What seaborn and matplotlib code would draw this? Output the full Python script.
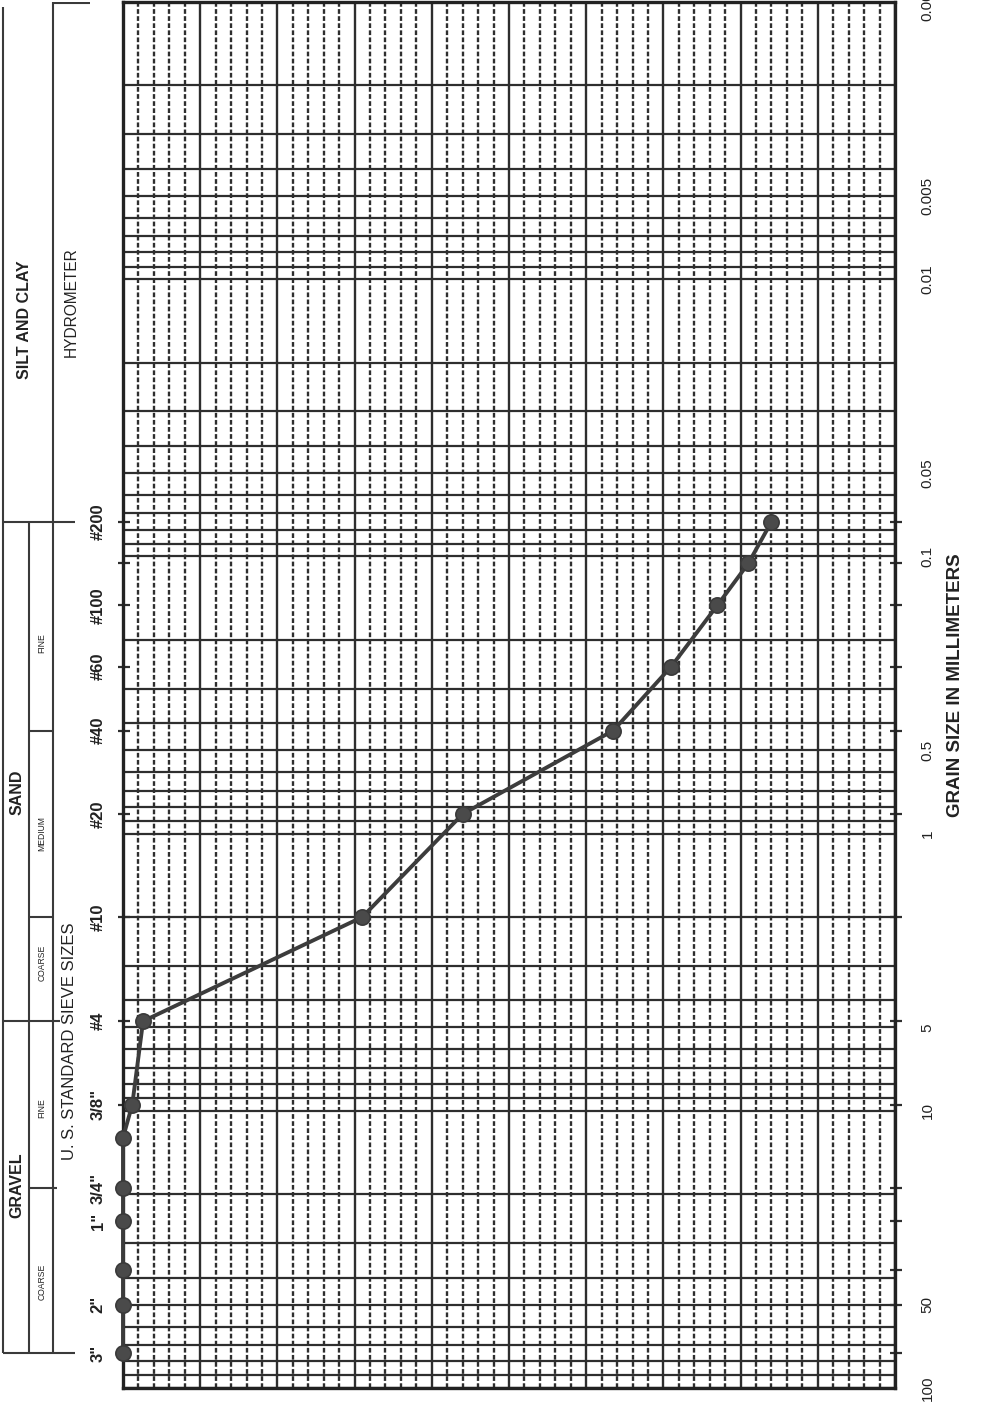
import numpy as np
import matplotlib
matplotlib.use("Agg")
import matplotlib.pyplot as plt
from matplotlib.ticker import FixedLocator, MultipleLocator, LogLocator, NullFormatter
import seaborn as sns

# ---- data -------------------------------------------------------------
# sieve openings (mm) and percent passing for the tested sample
sieve_mm = [75, 50, 37.5, 25, 19, 12.5, 9.5, 4.75, 2.0, 0.85, 0.425, 0.25, 0.15, 0.106, 0.075]
percent_finer = [100, 100, 100, 100, 100, 100, 98.8, 97.4, 69, 56, 36.5, 29, 23, 19, 16]

# sieves marked by ticks on the chart border
tick_sieve_mm = [75, 50, 37.5, 25, 19, 9.5, 4.75, 2.0, 0.85, 0.425, 0.25, 0.15, 0.106, 0.075]

# labelled U.S. standard sieves
label_sieve_mm = [75, 50, 25, 19, 9.5, 4.75, 2.0, 0.85, 0.425, 0.25, 0.15, 0.075]
label_sieve_txt = ['3"', '2"', '1"', '3/4"', '3/8"', '#4', '#10', '#20', '#40', '#60', '#100', '#200']

# grain-size axis labels
size_ticks = [100, 50, 10, 5, 1, 0.5, 0.1, 0.05, 0.01, 0.005, 0.001]
size_tick_labels = ['100', '50', '10', '5', '1', '0.5', '0.1', '0.05', '0.01', '0.005', '0.001']

# soil classification boundaries (mm)
gravel_top, gravel_split, sand_top = 75, 19, 4.75
sand_coarse_med, sand_med_fine, fines_top = 2.0, 0.425, 0.075

# ---- styling ----------------------------------------------------------
sns.set_style("white")
plt.rcParams["font.family"] = ["Liberation Sans", "DejaVu Sans"]

INK = "#2e2e2e"
W, H = 1005, 1405
fig = plt.figure(figsize=(W / 100, H / 100), dpi=100)
fig.patch.set_facecolor("white")

left_px, right_px, top_px, bottom_px = 123, 895, 2, 1388
ax_rect = [left_px / W, (H - bottom_px) / H, (right_px - left_px) / W, (bottom_px - top_px) / H]
ax = fig.add_axes(ax_rect)

# coarse sizes at the bottom, fine sizes at the top; 100 % passing on the left
ax.set_yscale("log")
ax.set_ylim(100, 0.001)
ax.set_xlim(100, 0)

# grid: solid every 10 %, dashed every 2 %; solid at every log cycle line
ax.xaxis.set_major_locator(MultipleLocator(10))
ax.xaxis.set_minor_locator(MultipleLocator(2))
ax.yaxis.set_major_locator(FixedLocator(size_ticks))
ax.yaxis.set_minor_locator(LogLocator(base=10, subs=np.arange(1, 10), numticks=100))
ax.yaxis.set_minor_formatter(NullFormatter())
ax.set_yticklabels(size_tick_labels)
ax.set_axisbelow(True)
ax.grid(which="major", axis="x", color=INK, lw=1.7, ls="-")
ax.grid(which="minor", axis="x", color=INK, lw=1.7, ls=(0, (2.0, 1.0)))
ax.grid(which="both", axis="y", color=INK, lw=1.6, ls="-")

ax.tick_params(axis="x", which="both", bottom=False, top=False, labelbottom=False)
ax.yaxis.tick_right()
ax.tick_params(axis="y", which="both", left=False, right=False, labelleft=False,
               labelright=True, labelsize=11, pad=15, labelcolor="#222222")
for lab in ax.get_yticklabels():
    lab.set_rotation(90)
    lab.set_va("center")
    lab.set_ha("left")

for sp in ax.spines.values():
    sp.set_color("#222222")
    sp.set_linewidth(2.4)

# sieve ticks crossing both vertical borders
ax.hlines(tick_sieve_mm, 100.65, 99.1, color=INK, lw=1.6, clip_on=False)
ax.hlines(tick_sieve_mm, 0.65, -0.9, color=INK, lw=1.6, clip_on=False)

# gradation curve
sns.lineplot(x=percent_finer, y=sieve_mm, sort=False, estimator=None, ax=ax,
             color="#3c3c3c", lw=2.8, marker="o", markersize=11,
             markerfacecolor="#4a4a4a", markeredgecolor="#3a3a3a", markeredgewidth=1.2,
             clip_on=False, zorder=5)
ax.set_xlabel("")
ax.set_ylabel("")

fig.text(955 / W, 1 - 685 / H, "GRAIN SIZE IN MILLIMETERS", rotation=90,
         ha="center", va="center", fontsize=13.5, fontweight="bold", color="#222222")

# ---- classification header and sieve names ---------------------------
hx = fig.add_axes([0, ax_rect[1], left_px / W, ax_rect[3]], sharey=ax)
hx.set_xlim(0, left_px)
hx.axis("off")

LC = "#3a3a3a"
def vline(x, y0, y1):
    hx.plot([x, x], [y0, y1], color=LC, lw=1.5, solid_capstyle="butt")

def hline(y, x0, x1):
    hx.plot([x0, x1], [y, y], color=LC, lw=1.5, solid_capstyle="butt")

vline(3, gravel_top, 0.00104)
vline(53, gravel_top, 0.001)
vline(29, gravel_top, fines_top)
hline(0.00101, 53, 90)
hline(fines_top, 3, 75)
hline(sand_med_fine, 29, 53)
hline(sand_coarse_med, 29, 53)
hline(sand_top, 3, 60)
hline(gravel_split, 29, 57)
hline(gravel_top, 3, 75)

big = dict(rotation=90, ha="center", va="center", fontsize=11.5, fontweight="bold", color="#222222")
small = dict(rotation=90, ha="center", va="center", fontsize=6.2, color="#222222")
hx.text(17, 18.5, "GRAVEL", **big)
hx.text(17, 0.71, "SAND", **big)
hx.text(24, 0.014, "SILT AND CLAY", **big)
hx.text(71, 0.0121, "HYDROMETER", rotation=90, ha="center", va="center", fontsize=11.2, color="#222222")
hx.text(42, 41.5, "COARSE", **small)
hx.text(42, 9.8, "FINE", **small)
hx.text(42, 2.93, "COARSE", **small)
hx.text(42, 1.0, "MEDIUM", **small)
hx.text(42, 0.205, "FINE", **small)
hx.text(70, 5.6, "U. S. STANDARD SIEVE SIZES", rotation=90, ha="center", va="center",
        fontsize=12, color="#222222")

for mm, txt in zip(label_sieve_mm, label_sieve_txt):
    hx.text(98, mm, txt, rotation=90, ha="center", va="center", fontsize=12,
            fontweight="bold", color="#222222")

fig.savefig("out.png", dpi=100, facecolor="white")
